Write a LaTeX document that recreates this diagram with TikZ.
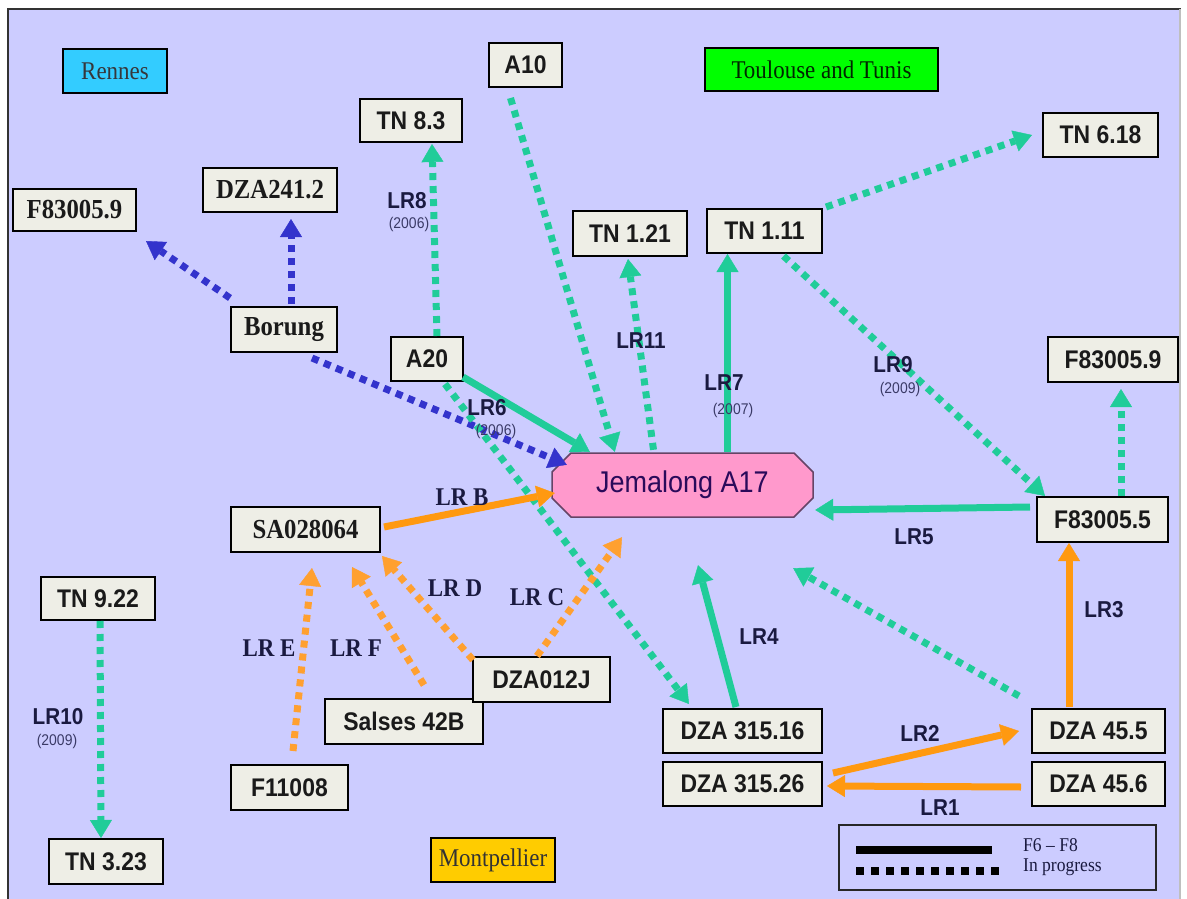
\documentclass[tikz,border=0pt]{standalone}
\usepackage{fontspec}
\setmainfont{Liberation Serif}[FakeStretch=0.9]
\setsansfont{Liberation Sans}[FakeStretch=0.9]
\usetikzlibrary{arrows.meta,calc}
\definecolor{bg}{HTML}{CCCCFF}
\definecolor{boxfill}{HTML}{EEEEE6}
\definecolor{nodetext}{HTML}{1A1A1A}
\definecolor{tealc}{HTML}{20CC99}
\definecolor{bluec}{HTML}{3333CC}
\definecolor{orangec}{HTML}{FF9910}
\definecolor{orangedot}{HTML}{FFA030}
\definecolor{labtext}{HTML}{1A1A40}
\definecolor{yrtext}{HTML}{3A3A66}
\definecolor{rennesc}{HTML}{33CCFF}
\definecolor{toulc}{HTML}{00FF00}
\definecolor{montc}{HTML}{FFCC00}
\definecolor{jemfill}{HTML}{FF99CC}
\definecolor{jemdraw}{HTML}{664466}
\definecolor{jemtext}{HTML}{2A0A5A}
\tikzset{
  box/.style={draw=black, line width=2pt, fill=boxfill, inner sep=0pt, text=nodetext},
  sbox/.style={box, font=\sffamily\bfseries\fontsize{25.5}{28}\selectfont},
  rbox/.style={box, font=\rmfamily\bfseries\fontsize{27.5}{30}\selectfont},
  region/.style={draw=black, line width=2pt, inner sep=0pt, font=\rmfamily\fontsize{25.5}{28}\selectfont},
  sz/.style 2 args={minimum width=#1, minimum height=#2},
  tiphead/.style={-{Triangle[length=18pt,width=22pt,line width=0.4pt]}},
  solidtl/.style={draw=tealc, line width=7pt, tiphead},
  dottl/.style={draw=tealc, line width=7pt, dash pattern=on 7pt off 6pt, tiphead},
  dotbl/.style={draw=bluec, line width=7pt, dash pattern=on 7pt off 6pt, tiphead},
  solidor/.style={draw=orangec, line width=7pt, tiphead},
  dotor/.style={draw=orangedot, line width=7pt, dash pattern=on 7pt off 6pt, tiphead},
  lab/.style={font=\sffamily\bfseries\fontsize{23}{25}\selectfont, text=labtext, inner sep=0pt},
  yr/.style={font=\sffamily\fontsize{15.5}{17}\selectfont, text=yrtext, inner sep=0pt},
  slab/.style={font=\rmfamily\bfseries\fontsize{25.5}{27}\selectfont, text=labtext, inner sep=0pt},
  legtext/.style={font=\rmfamily\fontsize{19.5}{20}\selectfont, text=labtext, inner sep=0pt, anchor=west}
}
\begin{document}
\begin{tikzpicture}[x=1pt,y=-1pt]
\useasboundingbox (0,0) rectangle (1187,899);
\fill[white] (0,0) rectangle (1187,899);
\fill[bg] (8,9) rectangle (1181,905);
\draw[line width=2pt, draw=black!80] (8,905) -- (8,9) -- (1181,9);
\draw[line width=1.5pt, draw=black!25] (1180,9) -- (1180,905);

% region boxes
\node[region, fill=rennesc, text=black!70!cyan!40!black, sz={104}{44}] (rennes) at (115,71) {Rennes};
\node[region, fill=toulc, text=black!70!green!50!black, sz={233}{43}] (toul) at (821.5,69.5) {Toulouse and Tunis};
\node[region, fill=montc, text=black!80, sz={124}{44}] (montp) at (493,860) {Montpellier};

% nodes
\node[rbox, sz={123}{42}] (f59l) at (74.5,210) {F83005.9};
\node[rbox, sz={134}{44}] (dza241) at (270,190) {DZA241.2};
\node[sbox, sz={102}{43}] (tn83) at (411,120.5) {TN 8.3};
\node[sbox, sz={73}{44}] (a10) at (525.5,65) {A10};
\node[sbox, sz={115}{44}] (tn618) at (1100.5,135) {TN 6.18};
\node[sbox, sz={114}{45}] (tn121) at (630,233.5) {TN 1.21};
\node[sbox, sz={115}{44}] (tn111) at (764.5,231) {TN 1.11};
\node[rbox, sz={106}{45}] (borung) at (284,329.5) {Borung};
\node[sbox, sz={72}{44}] (a20) at (427,359) {A20};
\node[sbox, sz={130}{45}] (f59r) at (1113,359.5) {F83005.9};
\node[sbox, sz={131}{45}] (f55) at (1102.5,519.5) {F83005.5};
\node[rbox, sz={149}{45}] (sa) at (305.5,529.5) {SA028064};
\node[sbox, sz={114}{43}] (tn922) at (98,598.5) {TN 9.22};
\node[sbox, sz={114}{45}] (tn323) at (106,861.5) {TN 3.23};
\node[sbox, sz={117}{45}] (f11) at (289.5,787.5) {F11008};
\node[sbox, sz={158}{45}] (salses) at (404,721.5) {Salses 42B};
\node[sbox, sz={137}{45}] (dza012) at (541.5,679.5) {DZA012J};
\node[sbox, sz={159}{44}] (d31516) at (742.5,731) {DZA 315.16};
\node[sbox, sz={159}{44}] (d31526) at (742.5,784) {DZA 315.26};
\node[sbox, sz={133}{44}] (d455) at (1098.5,731) {DZA 45.5};
\node[sbox, sz={133}{44}] (d456) at (1098.5,784) {DZA 45.6};

% Jemalong A17
\coordinate (jemc) at (682.5,485);
\filldraw[fill=jemfill, draw=jemdraw, line width=1.5pt]
  ($(jemc)+(-130.5,-13)$) -- ($(jemc)+(-111.5,-32)$) -- ($(jemc)+(111.5,-32)$) -- ($(jemc)+(130.5,-13)$)
  -- ($(jemc)+(130.5,13)$) -- ($(jemc)+(111.5,32)$) -- ($(jemc)+(-111.5,32)$) -- ($(jemc)+(-130.5,13)$) -- cycle;
\node[inner sep=0pt, sz={261}{64}, font=\sffamily\fontsize{30}{32}\selectfont, text=jemtext] (jem) at (jemc) {Jemalong A17};

% free arrow ends
\coordinate (tipB3) at ($(jem.north west)+(15,12)$);
\coordinate (tip13) at ($(jem.south east)+(-20,51)$);
\coordinate (tip17) at ($(jem.south)+(15.5,48)$);
\coordinate (tip20) at ($(jem.south)+(-60.5,20)$);
\coordinate (tip22) at ($(sa.south)+(46.5,14)$);
\coordinate (tip23) at ($(sa.south)+(6.5,15)$);

% blue dotted
\draw[dotbl] ($(borung.north west)+(0,-8)$) -- ($(f59l.south east)+(9,9)$);
\draw[dotbl] ($(borung.north)+(7,-2)$) -- ($(dza241.south)+(21,6)$);
\draw[dotbl] ($(borung.south)+(28,5)$) -- (tipB3);

% teal
\draw[dottl] ($(a20.north)+(10,0)$) -- ($(tn83.south)+(21,1)$);
\draw[dottl] ($(a20.south)+(18,2)$) -- ($(d31516.north west)+(27,-4)$);
\draw[solidtl] ($(a20.south east)+(-1,-5)$) -- ($(jem.north west)+(38,-1)$);
\draw[dottl] ($(a10.south)+(-15,10)$) -- ($(jem.north west)+(63,-1)$);
\draw[dottl] ($(jem.north)+(-29,-3)$) -- ($(tn121.south)+(-2,2)$);
\draw[solidtl] ($(jem.north)+(45,-1)$) -- ($(tn111.south)+(-37,0)$);
\draw[dottl] ($(tn111.north east)+(3,-1)$) -- ($(tn618.west)+(-10,0)$);
\draw[dottl] ($(tn111.south)+(19,2)$) -- ($(f55.north west)+(9,0)$);
\draw[dottl] ($(f55.north)+(18.5,0)$) -- ($(f59r.south)+(8,6)$);
\draw[solidtl] ($(f55.west)+(-6,-12.5)$) -- ($(jem.east)+(2,25)$);
\draw[dottl] ($(d455.north west)+(-12,-12)$) -- (tip13);
\draw[solidtl] ($(d31516.north)+(-6.5,-1)$) -- (tip17);
\draw[dottl] ($(tn922.south)+(2,0)$) -- ($(tn323.north)+(-5,0)$);

% orange
\draw[solidor] ($(d455.north)+(-29.5,-1)$) -- ($(f55.south)+(-33.5,0)$);
\draw[solidor] ($(d31526.east)+(10,-11)$) -- ($(d455.west)+(-12,0)$);
\draw[solidor] ($(d456.west)+(-10,3)$) -- ($(d31526.east)+(4,2)$);
\draw[solidor] ($(sa.east)+(3,-2.5)$) -- ($(jem.west)+(3,8)$);
\draw[dotor] ($(dza012.north)+(-4.5,0)$) -- (tip20);
\draw[dotor] ($(dza012.north west)+(1,4)$) -- ($(sa.south east)+(1,3)$);
\draw[dotor] ($(salses.north)+(20,-13)$) -- (tip22);
\draw[dotor] ($(f11.north)+(3.5,-13)$) -- (tip23);

% labels
\node[lab] (l8) at (407,201) {LR8};
\node[yr] (y8) at (409,224) {(2006)};
\node[lab] (l6) at (487,408) {LR6};
\node[yr] (y6) at (496,431) {(2006)};
\node[lab] (l11) at (641,341) {LR11};
\node[lab] (l7) at (724,383) {LR7};
\node[yr] (y7) at (733,410) {(2007)};
\node[lab] (l9) at (893,365) {LR9};
\node[yr] (y9) at (900,389) {(2009)};
\node[lab] (l5) at (914,537) {LR5};
\node[lab] (l3) at (1104,610) {LR3};
\node[lab] (l4) at (759,637) {LR4};
\node[lab] (l2) at (920,733) {LR2};
\node[lab] (l1) at (940,808) {LR1};
\node[lab] (l10) at (58,717) {LR10};
\node[yr] (y10) at (57,741) {(2009)};
\node[slab] (lb) at (462,497) {LR B};
\node[slab] (lc) at (537,597) {LR C};
\node[slab] (ld) at (455,588) {LR D};
\node[slab] (lf) at (356,648) {LR F};
\node[slab] (le) at (269,648) {LR E};

% legend
\node[draw=black!85, line width=2pt, fill=bg, inner sep=0pt, minimum width=317, minimum height=65] (legend) at (997.5,857.5) {};
\draw[black, line width=8pt] ($(legend.west)+(18,-7.5)$) -- ($(legend.west)+(154,-7.5)$);
\draw[black, line width=8pt, dash pattern=on 8pt off 7pt] ($(legend.west)+(18,13.5)$) -- ($(legend.west)+(161,13.5)$);
\node[legtext] (lg1) at ($(legend.west)+(185,-12)$) {F6 – F8};
\node[legtext] (lg2) at ($(legend.west)+(185,10)$) {In progress};
\end{tikzpicture}
\end{document}
